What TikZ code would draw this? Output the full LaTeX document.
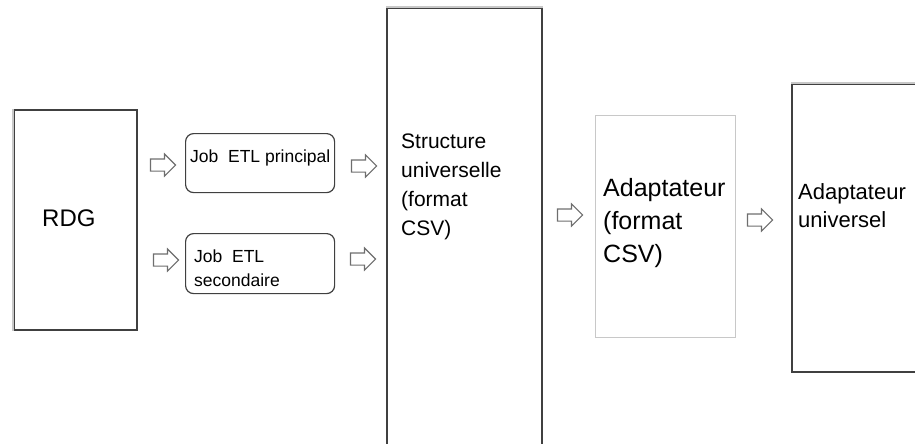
\documentclass[tikz,border=0pt]{standalone}
\usepackage{fontspec}
\setmainfont{Liberation Sans}
\usetikzlibrary{shapes.arrows}
\definecolor{edgedark}{RGB}{64,64,64}
\definecolor{edgelight}{RGB}{200,200,200}
\definecolor{arrowgray}{RGB}{110,110,110}
\begin{document}
\begin{tikzpicture}[x=1pt,y=-1pt,
  box/.style={rectangle, draw=edgedark, line width=1.6pt, fill=white, inner sep=0pt, anchor=north west},
  lightbox/.style={rectangle, draw=edgelight, line width=1pt, fill=white, inner sep=0pt, anchor=north west},
  jobbox/.style={rectangle, rounded corners=8pt, draw=edgedark, line width=1.2pt, inner sep=0pt, anchor=north west},
  lightedge/.style={draw=edgelight, line width=1.6pt},
  blockarrow/.style={single arrow, draw=arrowgray, fill=white, line width=1.1pt, inner xsep=0pt, inner ysep=5.5pt,
    minimum height=25pt, single arrow head extend=5pt, single arrow tip angle=90},
  lbl/.style={inner sep=0pt, anchor=base west, align=left}
]
\useasboundingbox (0,0) rectangle (915,444);
\clip (0,0) rectangle (915,444);

% boxes
\node[box, minimum width=123pt, minimum height=220pt] (rdg) at (13,109) {};
\draw[lightedge] (rdg.north west) -- (rdg.south west);

\node[jobbox, minimum width=149pt, minimum height=59pt] (job1) at (185,133) {};
\node[jobbox, minimum width=149pt, minimum height=60pt] (job2) at (185,233) {};

\node[box, minimum width=155pt, minimum height=460pt] (struct) at (386,7) {};
\draw[lightedge] (struct.north west) -- (struct.north east);

\node[lightbox, minimum width=140pt, minimum height=222pt] (adapt) at (595,115) {};

\node[box, minimum width=150pt, minimum height=288pt] (univ) at (791,83) {};
\draw[lightedge] (univ.north west) -- (univ.north east);

% labels (anchor = baseline of the last line)
\node[lbl, font=\fontsize{24}{28}\selectfont] (trdg) at (42,226) {RDG};
\node[lbl, font=\fontsize{17.5}{24}\selectfont] (tjob1) at (190,162) {Job\ \ ETL principal};
\node[lbl, font=\fontsize{17.5}{24}\selectfont] (tjob2) at (194,286) {Job\ \ ETL\\secondaire};
\node[lbl, font=\fontsize{21}{29}\selectfont] (tstruct) at (401,235) {Structure\\universelle\\(format\\CSV)};
\node[lbl, font=\fontsize{25}{33}\selectfont] (tadapt) at (603,262) {Adaptateur\\(format\\CSV)};
\node[lbl, font=\fontsize{22}{28}\selectfont] (tuniv) at (798,227) {Adaptateur\\universel};

% block arrows
\node[blockarrow] (a1) at (160,165) {};
\node[blockarrow] (a2) at (163,260) {};
\node[blockarrow] (a3) at (361,166) {};
\node[blockarrow] (a4) at (360,259) {};
\node[blockarrow] (a5) at (567,215) {};
\node[blockarrow] (a6) at (757,220) {};
\end{tikzpicture}
\end{document}
